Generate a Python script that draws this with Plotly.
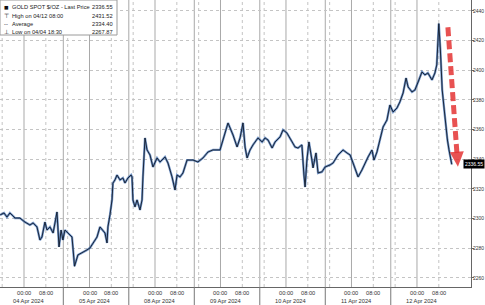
import plotly.graph_objects as go

# ---------------- data ----------------
DAY_INDEX = {"04-03": -1, "04-04": 0, "04-05": 1, "04-08": 2, "04-09": 3,
             "04-10": 4, "04-11": 5, "04-12": 6}
DAY_LABELS = ["04 Apr 2024", "05 Apr 2024", "08 Apr 2024", "09 Apr 2024",
              "10 Apr 2024", "11 Apr 2024", "12 Apr 2024"]
TIME_LABELS = ["00:00", "08:00"]
Y_TICKS = [2260, 2280, 2300, 2320, 2340, 2360, 2380, 2400, 2420, 2440]

times = [
    "04-03 15:15", "04-03 16:40", "04-03 17:45", "04-03 18:50", "04-03 20:00",
    "04-03 20:40", "04-03 22:30", "04-04 00:20", "04-04 02:10", "04-04 03:20",
    "04-04 04:45", "04-04 05:50", "04-04 06:35", "04-04 07:40", "04-04 08:25",
    "04-04 09:30", "04-04 10:40", "04-04 12:05", "04-04 12:50", "04-04 13:35",
    "04-04 14:15", "04-04 15:00", "04-04 16:05", "04-04 17:35", "04-04 18:15",
    "04-04 18:30", "04-04 19:45", "04-04 21:15", "04-04 22:20", "04-04 23:05",
    "04-05 00:10", "04-05 01:15", "04-05 02:00", "04-05 02:45", "04-05 03:50",
    "04-05 04:55", "04-05 05:40", "04-05 06:25", "04-05 06:45", "04-05 07:30",
    "04-05 08:15", "04-05 08:35", "04-05 09:20", "04-05 10:05", "04-05 11:10",
    "04-05 12:15", "04-05 13:00", "04-05 14:05", "04-05 15:15", "04-05 15:35",
    "04-05 15:55", "04-05 16:40", "04-05 17:25", "04-05 18:30", "04-05 19:15",
    "04-05 19:35", "04-05 20:20", "04-05 21:05", "04-05 22:10", "04-05 23:15",
    "04-08 00:00", "04-08 00:45", "04-08 01:50", "04-08 03:40", "04-08 04:45",
    "04-08 06:15", "04-08 07:20", "04-08 08:05", "04-08 09:10", "04-08 10:15",
    "04-08 11:45", "04-08 12:50", "04-08 13:55", "04-08 15:45", "04-08 17:35",
    "04-08 19:25", "04-08 21:15", "04-08 23:50", "04-09 00:55", "04-09 02:45",
    "04-09 04:35", "04-09 06:05", "04-09 07:10", "04-09 08:15", "04-09 09:00",
    "04-09 09:45", "04-09 10:50", "04-09 11:55", "04-09 13:45", "04-09 15:15",
    "04-09 16:20", "04-09 17:25", "04-09 18:55", "04-09 20:00", "04-09 21:50",
    "04-09 22:55", "04-10 00:20", "04-10 02:15", "04-10 03:20", "04-10 04:25",
    "04-10 05:50", "04-10 06:35", "04-10 07:00", "04-10 07:40", "04-10 08:25",
    "04-10 09:30", "04-10 09:55", "04-10 11:00", "04-10 11:45", "04-10 13:10",
    "04-10 14:20", "04-10 16:10", "04-10 17:15", "04-10 19:05", "04-10 20:55",
    "04-10 22:20", "04-10 23:30", "04-11 00:35", "04-11 02:25", "04-11 03:50",
    "04-11 04:55", "04-11 06:05", "04-11 07:30", "04-11 08:15", "04-11 09:20",
    "04-11 10:25", "04-11 11:35", "04-11 13:00", "04-11 14:05", "04-11 15:15",
    "04-11 16:40", "04-11 17:45", "04-11 18:55", "04-11 20:00", "04-11 20:45",
    "04-11 22:10", "04-11 23:15", "04-12 00:25", "04-12 01:50", "04-12 02:55",
    "04-12 04:00", "04-12 05:30", "04-12 06:35", "04-12 07:15", "04-12 07:45",
    "04-12 08:00", "04-12 08:35", "04-12 09:15", "04-12 10:00", "04-12 10:40",
    "04-12 11:10", "04-12 11:45", "04-12 12:45",
]
prices = [
    2302.5, 2303.8, 2301.1, 2303.8, 2301.8,
    2300.4, 2300.4, 2297.7, 2295.7, 2297.1,
    2294.4, 2285.6, 2287.6, 2297.7, 2292.3,
    2294.4, 2290.3, 2304.5, 2280.9, 2292.3,
    2285.6, 2292.3, 2290.3, 2287.6, 2273.5,
    2267.87, 2275.5, 2276.8, 2278.2, 2278.9,
    2280.2, 2283.6, 2285.6, 2287.6, 2294.4,
    2292.3, 2290.3, 2283.6, 2294.4, 2302.5,
    2312.6, 2324.0, 2326.1, 2329.4, 2326.1,
    2327.4, 2324.0, 2327.4, 2329.4, 2328.1,
    2312.6, 2307.9, 2312.6, 2305.8, 2312.6,
    2328.1, 2354.4, 2346.3, 2342.9, 2334.8,
    2337.5, 2340.9, 2338.2, 2341.6, 2337.5,
    2328.1, 2319.3, 2329.4, 2328.1, 2330.8,
    2339.5, 2339.5, 2339.5, 2338.2, 2340.9,
    2344.9, 2346.3, 2346.3, 2353.0, 2364.5,
    2356.4, 2348.3, 2354.4, 2364.5, 2348.3,
    2340.9, 2346.3, 2349.7, 2354.4, 2351.7,
    2354.4, 2353.0, 2347.6, 2351.7, 2355.1,
    2359.8, 2357.8, 2351.7, 2348.3, 2347.6,
    2349.7, 2329.4, 2321.3, 2339.5, 2351.7,
    2339.5, 2334.2, 2344.3, 2330.8, 2331.5,
    2334.8, 2336.2, 2337.5, 2342.9, 2346.3,
    2344.3, 2342.9, 2337.5, 2328.1, 2332.8,
    2337.5, 2341.6, 2346.3, 2339.5, 2344.9,
    2353.0, 2361.8, 2366.5, 2376.6, 2371.9,
    2374.6, 2378.7, 2384.7, 2394.8, 2388.8,
    2385.4, 2386.7, 2392.1, 2398.9, 2396.9,
    2398.2, 2393.5, 2398.2, 2403.6, 2420.4,
    2431.52, 2413.7, 2386.7, 2373.3, 2359.8,
    2353.0, 2346.3, 2336.55,
]

LEGEND_SYMBOLS = ["■", "⊤", "--", "⊥"]
LEGEND_LABELS = ["GOLD SPOT $/OZ - Last Price", "High on 04/12 08:00",
                 "Average", "Low on 04/04 18:30"]
LEGEND_VALUES = ["2336.55", "2431.52", "2334.40", "2267.87"]
LAST_PRICE = 2336.55
ARROW_FROM = ("04-12 11:20", 2429.0)
ARROW_TO = ("04-12 15:00", 2335.0)
SESSION_BREAK_H = 14.4  # session separator hour on the chart clock

# ---------------- layout geometry ----------------
W, H = 485, 305
ML, MR, MT, MB = 0, 14, 0, 18
PW, PH = W - ML - MR, H - MT - MB
XR = [-8.8, 163.8]
YR = [2253.9, 2447.4]
FONT = "Liberation Sans, Arial, sans-serif"
FS = 5.7


def tx(s):
    d, t = s.split()
    hh, mm = t.split(":")
    return 24 * DAY_INDEX[d] + int(hh) + int(mm) / 60


def xpaper(h):
    return (h - XR[0]) / (XR[1] - XR[0])


def ypaper(v):
    return (v - YR[0]) / (YR[1] - YR[0])


x = [tx(t) for t in times]

fig = go.Figure()
fig.add_trace(go.Scatter(x=x, y=prices, mode="lines",
                         line=dict(color="rgba(70,115,180,0.75)", width=2.3),
                         hoverinfo="skip", showlegend=False))
fig.add_trace(go.Scatter(x=x, y=prices, mode="lines",
                         line=dict(color="#101a2a", width=0.9),
                         showlegend=False))

shapes = []
annotations = []
ndays = len(DAY_LABELS)
for k in range(-1, ndays):
    base = 24 * k
    if k >= 0:
        shapes.append(dict(type="line", xref="x", yref="paper", x0=base, x1=base,
                           y0=0, y1=1, line=dict(color="#a9a9a9", width=1),
                           layer="below"))
        shapes.append(dict(type="line", xref="x", yref="paper", x0=base + 8, x1=base + 8,
                           y0=0, y1=1, line=dict(color="#c4c4c4", width=1, dash="dot"),
                           layer="below"))
    if k < ndays - 1:
        shapes.append(dict(type="line", xref="x", yref="paper", x0=base + 16, x1=base + 16,
                           y0=0, y1=1, line=dict(color="#c4c4c4", width=1, dash="dot"),
                           layer="below"))
    if 0 <= k < ndays - 1:
        sb = base + SESSION_BREAK_H
        shapes.append(dict(type="line", xref="x", yref="paper", x0=sb, x1=sb,
                           y0=0, y1=1, line=dict(color="#a9a9a9", width=1),
                           layer="below"))
        shapes.append(dict(type="line", xref="paper", yref="paper",
                           x0=xpaper(sb), x1=xpaper(sb), y0=0, y1=-MB / PH,
                           line=dict(color="#777777", width=1)))

for k, lab in enumerate(DAY_LABELS):
    base = 24 * k
    for j, tl in enumerate(TIME_LABELS):
        annotations.append(dict(xref="x", yref="paper", x=base + 8 * j, y=0,
                                yanchor="top", xanchor="center", yshift=-1,
                                text=tl, showarrow=False,
                                font=dict(family=FONT, size=FS, color="#333333")))
    annotations.append(dict(xref="x", yref="paper", x=base + 1.8, y=0,
                            yanchor="top", xanchor="center", yshift=-9,
                            text=lab, showarrow=False,
                            font=dict(family=FONT, size=FS, color="#333333")))

box_w, box_h = 117, 35
shapes.append(dict(type="rect", xref="paper", yref="paper", x0=0, x1=box_w / PW,
                   y0=1 - box_h / PH, y1=1, fillcolor="white",
                   line=dict(color="#9a9a9a", width=1), layer="above"))
row_y = [7.5, 16, 24.5, 33]
for i in range(len(LEGEND_LABELS)):
    yp = 1 - (row_y[i] - 0.5) / PH
    annotations.append(dict(xref="paper", yref="paper", x=2 / PW, y=yp,
                            xanchor="left", yanchor="middle", text=LEGEND_SYMBOLS[i],
                            showarrow=False,
                            font=dict(family=FONT, size=FS if i else 7.5, color="#111111")))
    annotations.append(dict(xref="paper", yref="paper", x=10 / PW, y=yp,
                            xanchor="left", yanchor="middle", text=LEGEND_LABELS[i],
                            showarrow=False,
                            font=dict(family=FONT, size=FS, color="#222222")))
    annotations.append(dict(xref="paper", yref="paper", x=115 / PW, y=yp,
                            xanchor="right", yanchor="middle", text=LEGEND_VALUES[i],
                            showarrow=False,
                            font=dict(family=FONT, size=FS, color="#222222")))

# last price tag, kept inside the window's right edge
annotations.append(dict(xref="paper", yref="y", x=1, y=LAST_PRICE, xanchor="right",
                        xshift=MR, yanchor="middle", text=f"{LAST_PRICE:.2f}",
                        showarrow=False, bgcolor="#000000", borderpad=1,
                        font=dict(family=FONT, size=5.0, color="#ffffff")))

x0p = xpaper(tx(ARROW_FROM[0])) * PW
y0p = ypaper(ARROW_FROM[1]) * PH
x1p = xpaper(tx(ARROW_TO[0])) * PW
y1p = ypaper(ARROW_TO[1]) * PH
dx, dy = x1p - x0p, y1p - y0p
L = (dx * dx + dy * dy) ** 0.5
ux, uy = dx / L, dy / L
head_len, head_half = 15, 7
bx, by = x1p - ux * head_len, y1p - uy * head_len
nx, ny = -uy, ux
red = "rgba(228,52,52,0.85)"
shapes.append(dict(type="line", xref="paper", yref="paper",
                   x0=x0p / PW, y0=y0p / PH, x1=(x1p - ux * (head_len - 2)) / PW,
                   y1=(y1p - uy * (head_len - 2)) / PH,
                   line=dict(color=red, width=5, dash="9px,4px"), layer="above"))
path = "M {:.5f} {:.5f} L {:.5f} {:.5f} L {:.5f} {:.5f} Z".format(
    (bx + nx * head_half) / PW, (by + ny * head_half) / PH,
    (bx - nx * head_half) / PW, (by - ny * head_half) / PH,
    x1p / PW, y1p / PH)
shapes.append(dict(type="path", xref="paper", yref="paper", path=path,
                   fillcolor=red, line=dict(width=0), layer="above"))

fig.update_layout(
    width=W, height=H,
    margin=dict(l=ML, r=MR, t=MT, b=MB, pad=0),
    paper_bgcolor="white", plot_bgcolor="white",
    showlegend=False,
    shapes=shapes, annotations=annotations,
    xaxis=dict(range=XR, showgrid=False, zeroline=False, showticklabels=False,
               ticks="", showline=True, linecolor="#666666", linewidth=1,
               fixedrange=True),
    yaxis=dict(range=YR, side="right", tickvals=Y_TICKS,
               ticktext=[str(v) for v in Y_TICKS],
               showgrid=True, gridcolor="#c4c4c4", griddash="dot", gridwidth=1,
               zeroline=False, showline=True, linecolor="#666666", linewidth=1,
               ticks="outside", ticklen=2, tickcolor="#666666",
               ticklabelstandoff=-2,
               tickfont=dict(family=FONT, size=5.0, color="#333333"),
               automargin=False, fixedrange=True),
)

fig.write_html("out.html")
